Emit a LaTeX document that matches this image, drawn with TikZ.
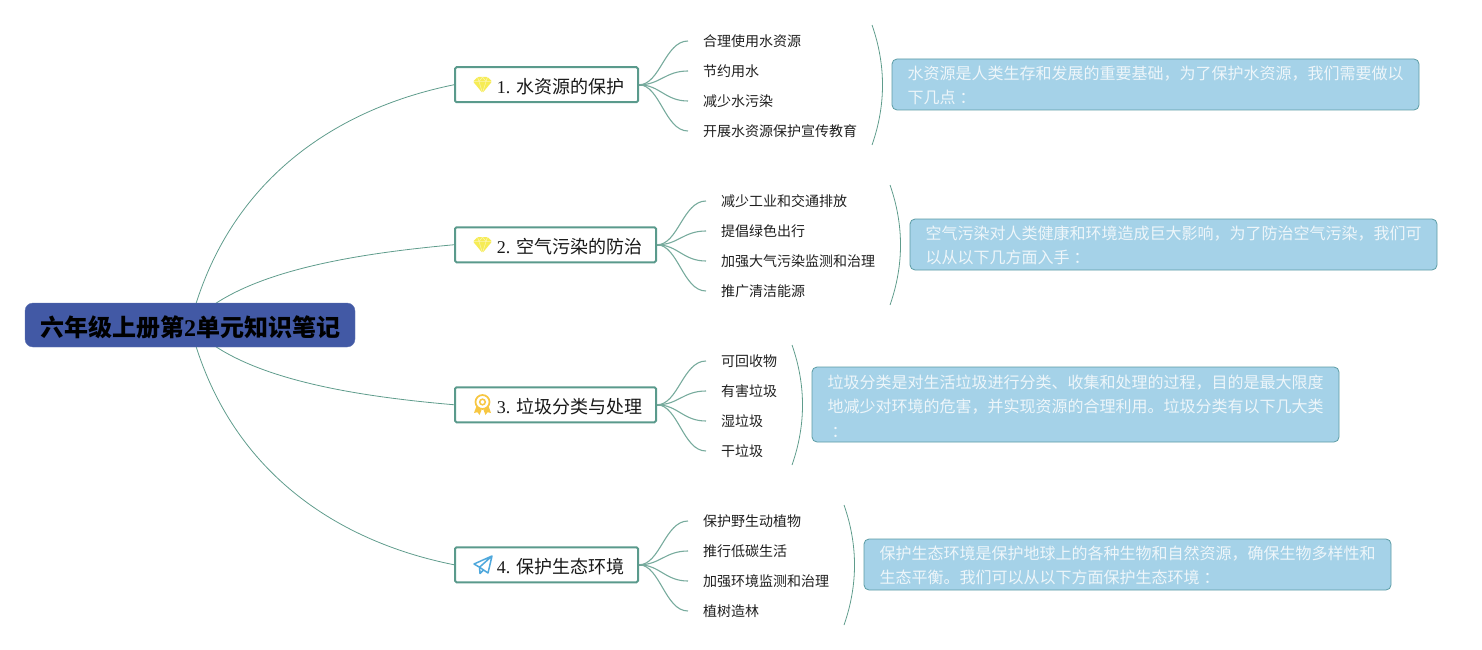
\documentclass[tikz,border=0pt]{standalone}
\usepackage{fontspec}
\setmainfont{Liberation Serif}
\newfontfamily\cjk{Noto Sans CJK SC}
\usetikzlibrary{backgrounds}
\definecolor{linec}{HTML}{5F9C8C}
\definecolor{boxline}{HTML}{5A9A8C}
\definecolor{descfill}{HTML}{A5D2E8}
\definecolor{descline}{HTML}{5C9CA4}
\definecolor{descfont}{HTML}{EEF6FA}
\definecolor{rootfill}{HTML}{4259A5}
\definecolor{gemc}{HTML}{F6EC55}
\definecolor{medalc}{HTML}{F7C742}
\definecolor{planec}{HTML}{4FA8DC}
\newcommand{\gemicon}[2]{%
  \begin{scope}[shift={(#1,#2)}]
    \fill[gemc,rounded corners=1pt] (-9.5,-3.5) -- (-5,-8) -- (5,-8) -- (9.5,-3.5) -- (0,8) -- cycle;
    \draw[white,opacity=.55,line width=.5pt] (-9.5,-3.5) -- (9.5,-3.5) (-5,-8) -- (-3.5,-3.5) -- (0,8) -- (3.5,-3.5) -- (5,-8) (0,-8) -- (-3.5,-3.5) (0,-8) -- (3.5,-3.5);
  \end{scope}}
\newcommand{\medalicon}[2]{%
  \begin{scope}[shift={(#1,#2)}]
    \fill[medalc] (-6,1) -- (-8.5,8) -- (-5,7.2) -- (-3,10) -- (-1,5) -- cycle;
    \fill[medalc] (6,1) -- (8.5,8) -- (5,7.2) -- (3,10) -- (1,5) -- cycle;
    \draw[medalc,line width=1.7pt,fill=white] (0,-3) circle (7);
    \draw[medalc,line width=1.5pt] (0,-3) circle (2.8);
  \end{scope}}
\newcommand{\planeicon}[2]{%
  \begin{scope}[shift={(#1,#2)}]
    \draw[planec,line width=1.5pt,line join=round] (9,-9) -- (-9,-1) -- (-3.5,2.2) -- (9,-9) -- (5,8) -- (-3.5,2.2) -- (-3,8.5) -- (0.5,5);
  \end{scope}}
\newcommand{\toptext}[2]{\raisebox{-2pt}[\height][\depth]{\hspace{28pt}{\rmfamily #1 }#2}}
\newcommand{\desctext}[2]{\raisebox{#1}[\height][\depth]{\parbox{496pt}{#2}}}
\tikzset{
  x=1pt,y=-1pt,
  conn/.style={draw=linec,line width=.8pt},
  branch/.style={draw=linec!85!white,line width=1.1pt},
  stub/.style={draw=linec,line width=2.4pt},
  root/.style={draw=rootfill!85!white,fill=rootfill,rounded corners=8pt,minimum width=330pt,minimum height=44pt,inner sep=0pt,
    font=\cjk\bfseries\fontsize{24}{24}\selectfont},
  topic/.style={draw=boxline,fill=white,line width=2pt,rounded corners=1.5pt,minimum height=35pt,inner sep=0pt,anchor=west,
    font=\cjk\fontsize{18}{18}\selectfont,text=black!90},
  leaf/.style={anchor=west,inner xsep=15pt,inner ysep=0pt,font=\cjk\fontsize{14}{14}\selectfont,text=black!88},
  desc/.style={draw=descline,fill=descfill,line width=.8pt,rounded corners=5pt,anchor=north west,minimum width=527pt,inner sep=0pt,
    text=descfont,font=\cjk\fontsize{16}{24.5}\selectfont},
}
\begin{document}
\begin{tikzpicture}
\useasboundingbox (0,0) rectangle (1482,650);
\node[root] (R) at (190,325) {\raisebox{-2pt}[\height][\depth]{六年级上册第{\rmfamily 2}单元知识笔记}};
% topics
\node[topic,minimum width=183pt] (A) at (454,84.75) {\toptext{1.}{水资源的保护}};
\node[topic,minimum width=201pt] (B) at (454,244.75) {\toptext{2.}{空气污染的防治}};
\node[topic,minimum width=201pt] (C) at (454,404.75) {\toptext{3.}{垃圾分类与处理}};
\node[topic,minimum width=183pt] (D) at (454,564.75) {\toptext{4.}{保护生态环境}};
\gemicon{482.5}{85}
\gemicon{482.5}{245}
\medalicon{482.5}{405}
\planeicon{483}{565}
% leaves
\node[leaf] (A1) at (688,41) {合理使用水资源};
\node[leaf] (A2) at (688,71) {节约用水};
\node[leaf] (A3) at (688,101) {减少水污染};
\node[leaf] (A4) at (688,131) {开展水资源保护宣传教育};
\node[leaf] (B1) at (706,201) {减少工业和交通排放};
\node[leaf] (B2) at (706,231) {提倡绿色出行};
\node[leaf] (B3) at (706,261) {加强大气污染监测和治理};
\node[leaf] (B4) at (706,291) {推广清洁能源};
\node[leaf] (C1) at (706,361) {可回收物};
\node[leaf] (C2) at (706,391) {有害垃圾};
\node[leaf] (C3) at (706,421) {湿垃圾};
\node[leaf] (C4) at (706,451) {干垃圾};
\node[leaf] (D1) at (688,521) {保护野生动植物};
\node[leaf] (D2) at (688,551) {推行低碳生活};
\node[leaf] (D3) at (688,581) {加强环境监测和治理};
\node[leaf] (D4) at (688,611) {植树造林};
% descriptions
\node[desc,minimum height=51pt] (DA) at (891.6,58.6) {\desctext{-1pt}{水资源是人类生存和发展的重要基础，为了保护水资源，我们需要做以\\下几点\kern4pt：}};
\node[desc,minimum height=51pt] (DB) at (909.6,218.6) {\desctext{-1pt}{空气污染对人类健康和环境造成巨大影响，为了防治空气污染，我们可\\以从以下几方面入手\kern4pt：}};
\node[desc,minimum height=75pt] (DC) at (811.6,366.6) {\desctext{-1.5pt}{垃圾分类是对生活垃圾进行分类、收集和处理的过程，目的是最大限度\\地减少对环境的危害，并实现资源的合理利用。垃圾分类有以下几大类\\\hspace*{4pt}：}};
\node[desc,minimum height=51pt] (DD) at (863.6,538.6) {\desctext{-1pt}{保护生态环境是保护地球上的各种生物和自然资源，确保生物多样性和\\生态平衡。我们可以从以下方面保护生态环境\kern4pt：}};
% brace ends
\coordinate (Aa) at (872,25); \coordinate (Ab) at (872,145);
\coordinate (Ba) at (890,185); \coordinate (Bb) at (890,305);
\coordinate (Ca) at (792,345); \coordinate (Cb) at (792,465);
\coordinate (Da) at (844,505); \coordinate (Db) at (844,625);
\begin{pgfonlayer}{background}
\path[conn] (R.center) .. controls (225,185) and (330,110) .. (A.west);
\path[conn] (R.center) .. controls (235,275) and (340,255) .. (B.west);
\path[conn] (R.center) .. controls (235,375) and (340,395) .. (C.west);
\path[conn] (R.center) .. controls (225,465) and (330,540) .. (D.west);
\foreach \p/\s/\b/\c in {A/85/660/665,B/245/678/683,C/405/678/683,D/565/660/665}{
  \path[stub] (\p.east) -- ++(7,0);
  \foreach \i/\t in {1/-44,2/-14,3/16,4/46}{
    \path[branch] (\p.east) .. controls (\b,\s) and (\c,\s+\t) .. (\p\i.west);
  }
}
\path[conn] (Aa) .. controls (886,65) and (886,105) .. (Ab);
\path[conn] (Ba) .. controls (904,225) and (904,265) .. (Bb);
\path[conn] (Ca) .. controls (806,385) and (806,425) .. (Cb);
\path[conn] (Da) .. controls (858,545) and (858,585) .. (Db);
\end{pgfonlayer}
\end{tikzpicture}
\end{document}
